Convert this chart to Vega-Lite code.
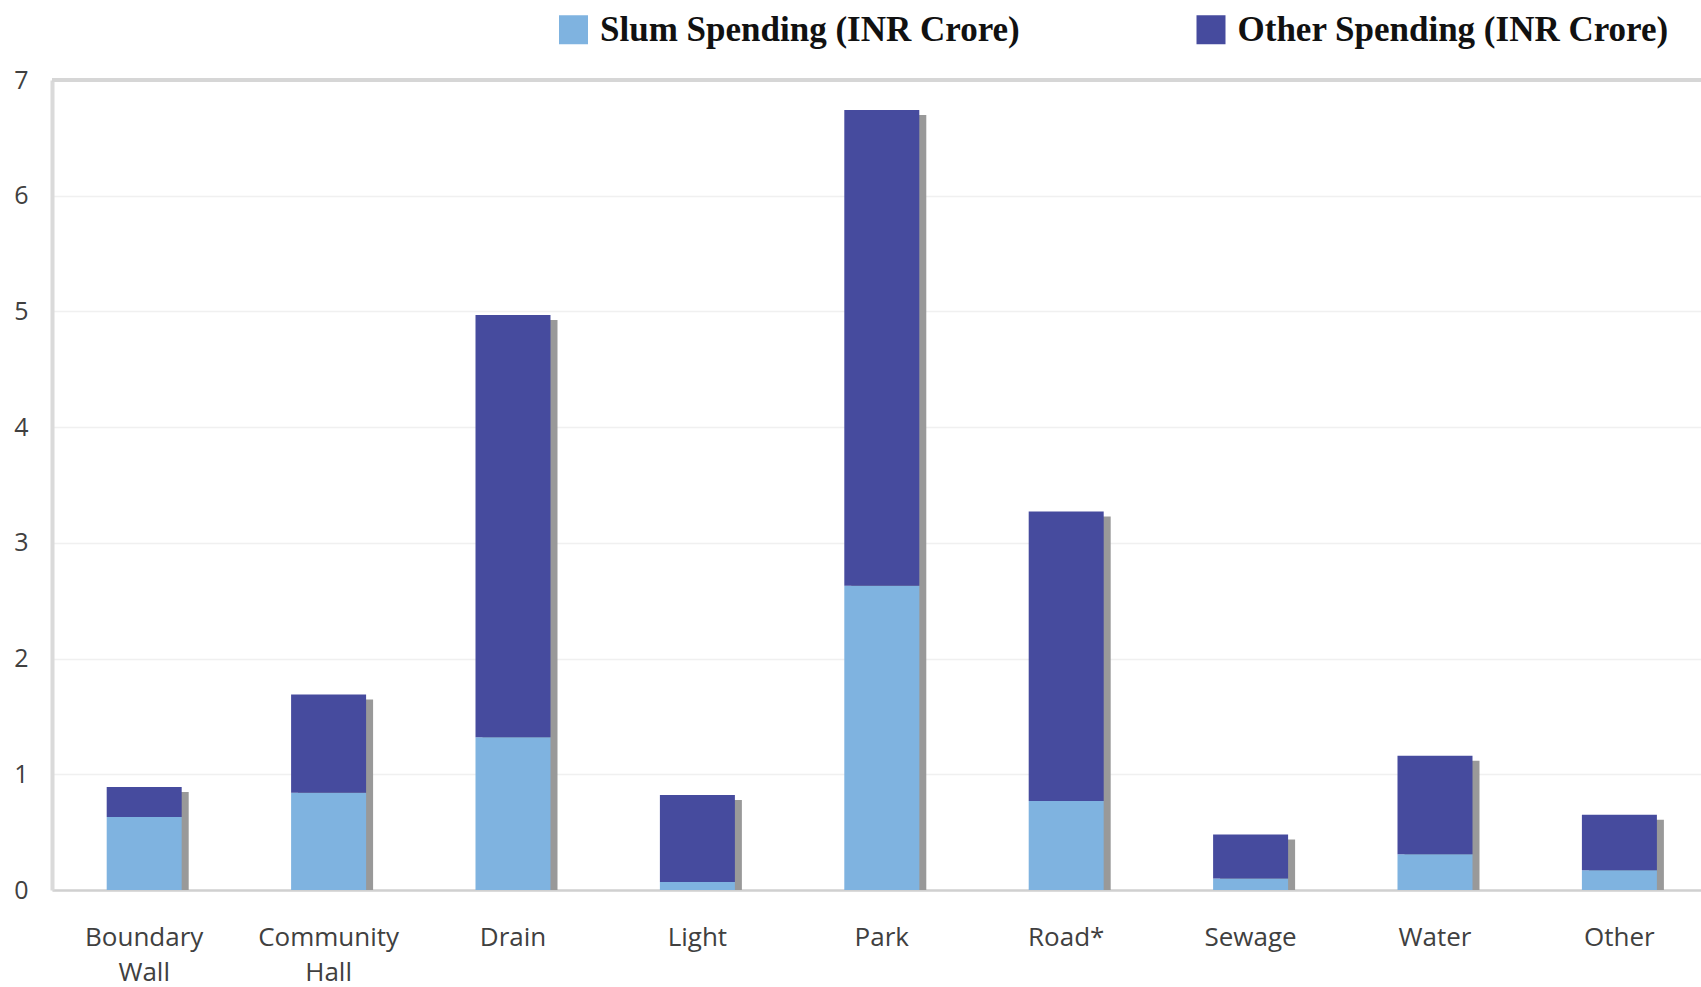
{
  "$schema": "https://vega.github.io/schema/vega-lite/v6.json",
  "width": 1649,
  "height": 810,
  "padding": {"left": 52, "top": 80, "right": 0, "bottom": 97},
  "autosize": {"type": "none"},
  "background": "white",
  "config": {
    "view": {"stroke": null},
    "font": "Open Sans"
  },
  "data": {
    "values": [
      {"category": "Boundary Wall", "series": "Slum Spending (INR Crore)", "value": 0.63},
      {"category": "Boundary Wall", "series": "Other Spending (INR Crore)", "value": 0.26},
      {"category": "Community Hall", "series": "Slum Spending (INR Crore)", "value": 0.84},
      {"category": "Community Hall", "series": "Other Spending (INR Crore)", "value": 0.85},
      {"category": "Drain", "series": "Slum Spending (INR Crore)", "value": 1.32},
      {"category": "Drain", "series": "Other Spending (INR Crore)", "value": 3.65},
      {"category": "Light", "series": "Slum Spending (INR Crore)", "value": 0.07},
      {"category": "Light", "series": "Other Spending (INR Crore)", "value": 0.75},
      {"category": "Park", "series": "Slum Spending (INR Crore)", "value": 2.63},
      {"category": "Park", "series": "Other Spending (INR Crore)", "value": 4.11},
      {"category": "Road*", "series": "Slum Spending (INR Crore)", "value": 0.77},
      {"category": "Road*", "series": "Other Spending (INR Crore)", "value": 2.5},
      {"category": "Sewage", "series": "Slum Spending (INR Crore)", "value": 0.1},
      {"category": "Sewage", "series": "Other Spending (INR Crore)", "value": 0.38},
      {"category": "Water", "series": "Slum Spending (INR Crore)", "value": 0.31},
      {"category": "Water", "series": "Other Spending (INR Crore)", "value": 0.85},
      {"category": "Other", "series": "Slum Spending (INR Crore)", "value": 0.17},
      {"category": "Other", "series": "Other Spending (INR Crore)", "value": 0.48}
    ]
  },
  "layer": [
    {
      "mark": {"type": "bar", "color": "#999999", "xOffset": 7, "yOffset": 5, "y2Offset": 0},
      "encoding": {
        "x": {
          "field": "category",
          "type": "nominal",
          "sort": null,
          "title": null,
          "scale": {"paddingInner": 0.5933, "paddingOuter": 0.2679, "align": 0.5536},
          "axis": {
            "labelAngle": 0,
            "labelFont": "Open Sans",
            "labelFontSize": 26,
            "labelColor": "#404040",
            "labelPadding": 34,
            "labelLineHeight": 35,
            "labelExpr": "split(datum.label, ' ')",
            "ticks": false,
            "domainColor": "#d0d0d0",
            "domainWidth": 2.5
          }
        },
        "y": {"aggregate": "sum", "field": "value", "type": "quantitative"}
      }
    },
    {
      "mark": {"type": "bar"},
      "encoding": {
        "x": {"field": "category", "type": "nominal", "sort": null},
        "y": {
          "aggregate": "sum",
          "field": "value",
          "type": "quantitative",
          "stack": "zero",
          "title": null,
          "scale": {"domain": [0, 7], "nice": false},
          "axis": {
            "values": [0, 1, 2, 3, 4, 5, 6, 7],
            "format": "d",
            "labelFont": "Open Sans",
            "labelFontSize": 25,
            "labelColor": "#404040",
            "labelPadding": 24,
            "ticks": false,
            "tickSize": 0,
            "domainColor": "#dadada",
            "domainWidth": 4,
            "gridColor": "#f0f0f0",
            "gridWidth": 1.5
          }
        },
        "color": {
          "field": "series",
          "type": "nominal",
          "scale": {
            "domain": ["Slum Spending (INR Crore)", "Other Spending (INR Crore)"],
            "range": ["#7fb3e0", "#464b9e"]
          },
          "legend": {
            "title": null,
            "orient": "none",
            "direction": "horizontal",
            "legendX": 504,
            "legendY": -68,
            "padding": 0,
            "symbolType": "square",
            "symbolSize": 841,
            "symbolStrokeWidth": 0,
            "symbolOpacity": 1,
            "labelFont": "Liberation Serif",
            "labelFontSize": 35,
            "labelFontWeight": "bold",
            "labelColor": "#111111",
            "labelOffset": 9,
            "labelLimit": 0,
            "columnPadding": 173.5
          }
        },
        "order": {"field": "series", "sort": "descending"}
      }
    },
    {
      "mark": {"type": "rule", "color": "#d6d6d6", "strokeWidth": 3},
      "encoding": {"y": {"datum": 7}}
    }
  ]
}
